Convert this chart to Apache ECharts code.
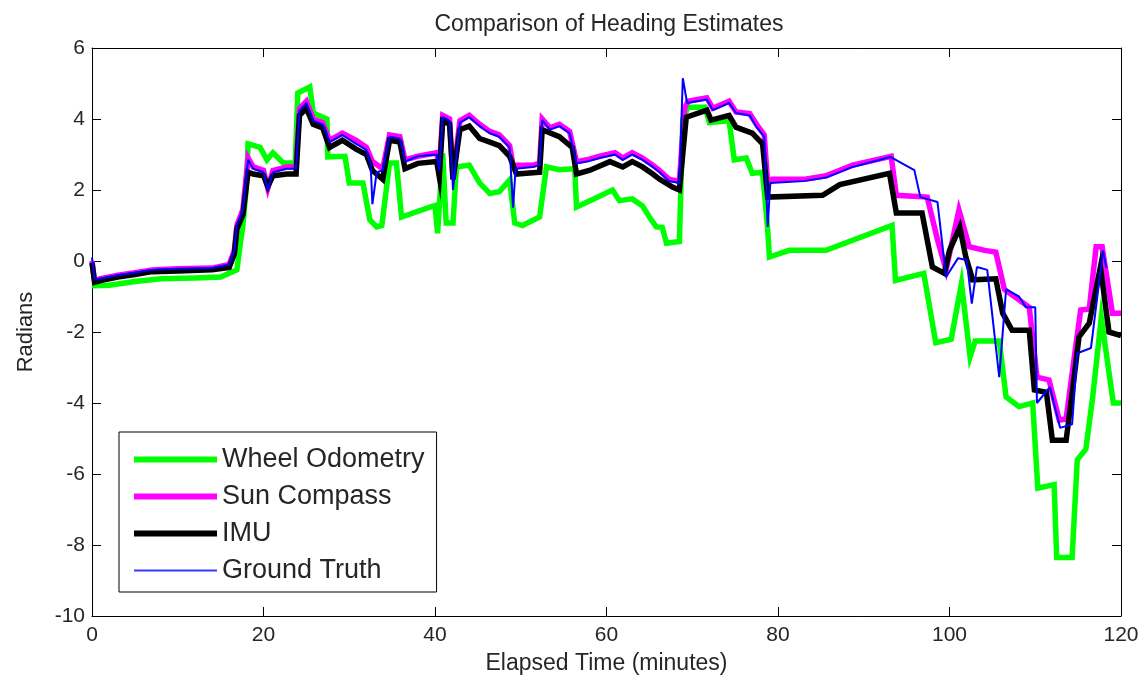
<!DOCTYPE html>
<html>
<head>
<meta charset="utf-8">
<title>Comparison of Heading Estimates</title>
<script src="https://cdn.jsdelivr.net/npm/echarts@6/dist/echarts.min.js"></script>
<style>
  html, body { margin: 0; padding: 0; background: #fff; }
  #chart { width: 1144px; height: 683px; }
</style>
</head>
<body>
<div id="chart"></div>
<script>
// Heading estimates, [elapsed minutes, radians]
var wheelOdometry = [
  [0, -0.7], [2, -0.68], [5, -0.58], [8, -0.5], [12, -0.48], [15, -0.45], [16.9, -0.25],
  [17.3, 0.5], [17.6, 1.0], [18.0, 2.1], [18.2, 3.3], [19.6, 3.2], [20.4, 2.85], [21.1, 3.05],
  [22.3, 2.76], [23.7, 2.76], [24.0, 4.73], [25.4, 4.9], [25.8, 4.17], [27.4, 4.0], [27.5, 2.93],
  [29.5, 2.95], [30, 2.2], [31.6, 2.2], [32.4, 1.16], [33.2, 0.96], [33.8, 1.0], [34.7, 2.76],
  [35.5, 2.76], [36.1, 1.24], [39.4, 1.52], [40.0, 1.56], [40.3, 0.78], [40.9, 3.03], [41.3, 1.07],
  [42.1, 1.07], [42.5, 2.65], [44, 2.7], [45.2, 2.2], [46.4, 1.9], [47.5, 1.95], [48.7, 2.28],
  [49.3, 1.07], [50.2, 1.0], [52.2, 1.24], [53, 2.65], [54.5, 2.57], [56.3, 2.6], [56.5, 1.52],
  [59, 1.8], [60.7, 2.0], [61.5, 1.7], [63, 1.75], [64.2, 1.55], [65, 1.24], [65.8, 0.96],
  [66.5, 0.95], [67, 0.5], [68.5, 0.55], [68.9, 4.0], [69.5, 4.33], [71.5, 4.33], [72, 3.9],
  [74.3, 3.95], [74.9, 2.85], [76.3, 2.9], [77, 2.47], [78.2, 2.5], [78.8, 0.87], [79, 0.11],
  [81.3, 0.3], [85.6, 0.3], [93.3, 1.0], [93.7, -0.55], [97, -0.35], [98.4, -2.3], [100.2, -2.2],
  [101.4, -0.63], [102.4, -2.7], [103, -2.25], [105.8, -2.25], [106.6, -3.83], [108.1, -4.1],
  [109.7, -4.0], [110.3, -6.4], [112.2, -6.3], [112.5, -8.35], [114.3, -8.35], [114.9, -5.6],
  [115.9, -5.3], [116.7, -3.83], [117.7, -1.6], [119.1, -4.0], [120, -4.0]
];

var sunCompass = [
  [0, 0.0], [0.3, -0.55], [1, -0.5], [3, -0.4], [5, -0.33], [7, -0.25], [10, -0.22], [14, -0.2],
  [16, -0.1], [16.6, 0.3], [16.9, 1.0], [17.6, 1.45], [18.2, 2.9], [18.8, 2.65], [20, 2.55],
  [20.5, 2.05], [21.1, 2.55], [22.7, 2.65], [23.8, 2.65], [24.2, 4.3], [25, 4.5], [25.8, 4.0],
  [26.9, 3.9], [27.7, 3.4], [29.2, 3.6], [30.8, 3.4], [32, 3.2], [32.7, 2.8], [33.9, 2.6],
  [34.7, 3.55], [35.9, 3.5], [36.5, 2.85], [38, 2.95], [40.2, 3.05], [40.5, 2.6], [40.9, 4.1],
  [41.7, 4.0], [42.1, 2.3], [42.9, 3.95], [44, 4.1], [45.2, 3.85], [46.4, 3.65], [47.5, 3.55],
  [48.7, 3.25], [49.1, 2.7], [51.4, 2.7], [52.2, 2.75], [52.5, 4.0], [53.4, 3.75], [54.5, 3.85],
  [55.7, 3.65], [56.5, 2.8], [57.7, 2.85], [59.2, 2.95], [61.0, 3.05], [61.9, 2.9], [63, 3.05],
  [64.2, 2.9], [65.4, 2.7], [66.2, 2.55], [67.3, 2.3], [68.5, 2.25], [69.1, 4.3], [69.5, 4.5],
  [71.7, 4.6], [72.4, 4.3], [74.3, 4.5], [75.1, 4.2], [76.7, 4.15], [77.5, 3.85], [78.4, 3.55],
  [78.8, 2.15], [79.3, 2.3], [83, 2.3], [85.6, 2.4], [88.7, 2.7], [93.2, 2.95], [93.8, 1.85],
  [97.4, 1.8], [98.6, 0.6], [99.6, -0.25], [101.1, 1.44], [102.3, 0.4], [104.1, 0.3],
  [105.4, 0.25], [106.4, -0.8], [109.3, -1.3], [110.2, -3.27], [111.6, -3.35], [112.8, -4.48],
  [113.6, -4.45], [114.5, -2.8], [115.3, -1.38], [116.3, -1.35], [117.1, 0.4], [117.8, 0.4],
  [119, -1.47], [120, -1.47]
];

var imu = [
  [0, -0.05], [0.3, -0.6], [1, -0.55], [3, -0.45], [5, -0.38], [7, -0.3], [10, -0.28], [14, -0.25],
  [16, -0.18], [16.6, 0.2], [16.9, 0.9], [17.6, 1.3], [18.2, 2.5], [18.8, 2.45], [20, 2.4],
  [20.5, 2.1], [21.1, 2.4], [22.7, 2.45], [23.8, 2.45], [24.2, 4.1], [25, 4.3], [25.8, 3.85],
  [26.9, 3.75], [27.7, 3.2], [29.2, 3.4], [30.8, 3.15], [32, 3.0], [32.7, 2.55], [33.9, 2.3],
  [34.7, 3.4], [35.9, 3.35], [36.5, 2.6], [38, 2.75], [40.2, 2.8], [40.5, 2.37], [40.9, 3.95],
  [41.7, 3.85], [42.1, 2.3], [42.9, 3.7], [44, 3.8], [45.2, 3.45], [46.4, 3.35], [47.5, 3.25],
  [48.7, 2.95], [49.5, 2.45], [52.2, 2.5], [52.5, 3.7], [54.5, 3.5], [56, 3.2], [56.5, 2.45],
  [58, 2.55], [60.4, 2.8], [61.9, 2.65], [63, 2.8], [64.2, 2.65], [65.4, 2.45], [66.2, 2.3],
  [67.7, 2.08], [68.5, 2.0], [69.3, 4.05], [71.7, 4.25], [72.2, 3.97], [74.3, 4.1], [75.1, 3.77],
  [77, 3.6], [78.2, 3.3], [78.8, 1.8], [85.2, 1.85], [87.2, 2.15], [93, 2.47], [93.8, 1.35],
  [96.8, 1.35], [98, -0.17], [99.4, -0.35], [100, 0.3], [101.2, 0.95], [101.9, 0.12],
  [102.7, -0.53], [105.4, -0.5], [106.2, -1.47], [107.3, -1.95], [109.3, -1.95], [109.9, -3.63],
  [111.3, -3.7], [112, -5.05], [113.6, -5.05], [114.5, -3.35], [115.1, -2.14], [116.3, -1.75],
  [117.6, -0.17], [118.6, -2.0], [120, -2.1]
];

var groundTruth = [
  [0, 0.1], [0.3, -0.5], [1, -0.5], [3, -0.4], [5, -0.33], [7, -0.25], [10, -0.22], [14, -0.2],
  [16, -0.1], [16.6, 0.3], [16.9, 1.0], [17.6, 1.45], [18.2, 2.85], [18.8, 2.6], [20, 2.5],
  [20.5, 2.0], [21.1, 2.5], [22.7, 2.6], [23.8, 2.6], [24.2, 4.25], [25, 4.45], [25.8, 3.95],
  [26.9, 3.85], [27.7, 3.35], [29.2, 3.55], [30.8, 3.3], [32, 3.13], [32.5, 2.7], [32.7, 1.6],
  [33.2, 2.5], [33.9, 2.55], [34.7, 3.5], [35.9, 3.45], [36.5, 2.8], [38, 2.95], [40.2, 3.0],
  [40.5, 2.55], [40.9, 4.06], [41.7, 3.95], [42.1, 2.0], [42.9, 3.9], [44, 4.05], [45.2, 3.8],
  [46.4, 3.6], [47.5, 3.5], [48.7, 3.2], [49.1, 1.5], [49.4, 2.6], [51.4, 2.65], [52.2, 2.7],
  [52.5, 3.97], [53.4, 3.7], [54.5, 3.8], [55.7, 3.6], [56.5, 2.75], [57.7, 2.8], [59.2, 2.9],
  [61, 3.0], [61.9, 2.85], [63, 3.0], [64.2, 2.85], [65.4, 2.65], [66.2, 2.5], [67.3, 2.25],
  [68.5, 2.2], [68.9, 5.15], [69.4, 4.45], [71.7, 4.55], [72.4, 4.25], [74.3, 4.45], [75.1, 4.17],
  [76.7, 4.1], [77.5, 3.77], [78.4, 3.5], [78.8, 0.96], [79.1, 2.2], [83, 2.25], [85.6, 2.35],
  [88.7, 2.65], [93.1, 2.93], [95.9, 2.56], [96.6, 1.8], [98.6, 1.66], [99.6, -0.45], [101, 0.08],
  [102, 0.03], [102.6, -1.2], [103.2, -0.17], [104.4, -0.25], [105.8, -3.27], [106.6, -0.8],
  [108.1, -1.0], [108.9, -1.3], [110, -1.3], [110.2, -4.0], [111.7, -3.55], [112.9, -4.7],
  [114.3, -4.6], [114.9, -2.6], [116.5, -2.45], [117.9, 0.3], [118.3, -0.2]
];

var seriesNames = ['Wheel Odometry', 'Sun Compass', 'IMU', 'Ground Truth'];
var xRange = [0, 120, 20];   // min, max, step (minutes)
var yRange = [-10, 6, 2];    // min, max, step (radians)

var FONT = '"Liberation Sans", Arial, Helvetica, sans-serif';
var TEXT = '#262626';

var chart = echarts.init(document.getElementById('chart'), null, { renderer: 'canvas' });

// Box-style axis: line plus inward ticks, no grid lines
function frameAxis(base) {
  return Object.assign({
    type: 'value',
    axisLine: { show: true, onZero: false, lineStyle: { color: '#000', width: 1 } },
    axisTick: { show: true, inside: true, length: 9, lineStyle: { color: '#000', width: 1 } },
    splitLine: { show: false }
  }, base);
}

chart.setOption({
  animation: false,
  backgroundColor: '#fff',
  title: {
    text: 'Comparison of Heading Estimates',
    left: 604, top: 8, textAlign: 'center',
    textStyle: { fontFamily: FONT, fontSize: 23, fontWeight: 'normal', color: TEXT }
  },
  grid: { left: 92, right: 23, top: 48, bottom: 67 },
  legend: {
    orient: 'vertical',
    left: 119, top: 432,
    padding: [14, 12, 8, 15],
    itemWidth: 83, itemHeight: 20, itemGap: 10,
    symbolKeepAspect: true,
    borderColor: '#000', borderWidth: 1,
    backgroundColor: '#fff',
    textStyle: { fontFamily: FONT, fontSize: 27, color: TEXT },
    data: [
      { name: seriesNames[0], icon: 'path://M0 0H83V6H0Z' },
      { name: seriesNames[1], icon: 'path://M0 0H83V6H0Z' },
      { name: seriesNames[2], icon: 'path://M0 0H83V6H0Z' },
      { name: seriesNames[3], icon: 'path://M0 0H83V2H0Z' }
    ]
  },
  xAxis: [
    frameAxis({
      position: 'bottom', min: xRange[0], max: xRange[1], interval: xRange[2],
      name: 'Elapsed Time (minutes)', nameLocation: 'middle', nameGap: 36,
      nameTextStyle: { fontFamily: FONT, fontSize: 23, color: TEXT, verticalAlign: 'top' },
      axisLabel: { fontFamily: FONT, fontSize: 21, color: TEXT, margin: 9 }
    }),
    frameAxis({
      position: 'top', min: xRange[0], max: xRange[1], interval: xRange[2],
      axisLabel: { show: false }
    })
  ],
  yAxis: [
    frameAxis({
      position: 'left', min: yRange[0], max: yRange[1], interval: yRange[2],
      name: 'Radians', nameLocation: 'middle', nameGap: 55, nameRotate: 90,
      nameTextStyle: { fontFamily: FONT, fontSize: 22, color: TEXT },
      axisLabel: { fontFamily: FONT, fontSize: 21, color: TEXT, margin: 7 }
    }),
    frameAxis({
      position: 'right', min: yRange[0], max: yRange[1], interval: yRange[2],
      axisLabel: { show: false }
    })
  ],
  series: [
    {
      name: seriesNames[0], type: 'line', data: wheelOdometry, symbol: 'none', z: 2,
      lineStyle: { color: '#00ff00', width: 5.5, join: 'miter' },
      itemStyle: { color: '#00ff00' }
    },
    {
      name: seriesNames[1], type: 'line', data: sunCompass, symbol: 'none', z: 3,
      lineStyle: { color: '#ff00ff', width: 5.5, join: 'miter' },
      itemStyle: { color: '#ff00ff' }
    },
    {
      name: seriesNames[2], type: 'line', data: imu, symbol: 'none', z: 4,
      lineStyle: { color: '#000000', width: 5.5, join: 'miter' },
      itemStyle: { color: '#000000' }
    },
    {
      name: seriesNames[3], type: 'line', data: groundTruth, symbol: 'none', z: 5,
      lineStyle: { color: '#0000ff', width: 2 },
      itemStyle: { color: '#3a3aff' }
    }
  ]
});
</script>
</body>
</html>
